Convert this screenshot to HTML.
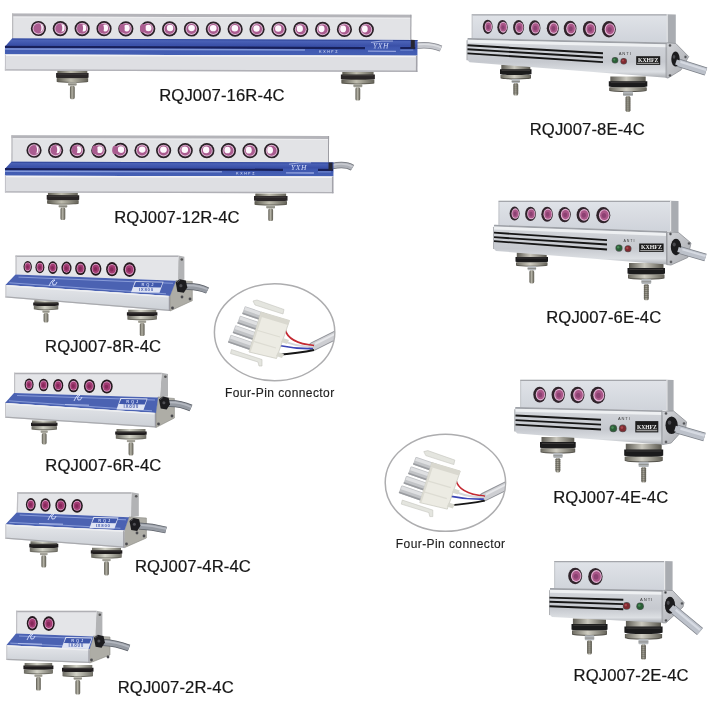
<!DOCTYPE html><html><head><meta charset="utf-8"><style>html,body{margin:0;padding:0;background:#fff;overflow:hidden}svg{display:block;will-change:transform}</style></head><body>
<svg width="711" height="711" viewBox="0 0 711 711" font-family='"Liberation Sans", sans-serif'>
<rect width="711" height="711" fill="#fff"/>
<defs><linearGradient id="ftR" x1="0" y1="0" x2="1" y2="0"><stop offset="0" stop-color="#5e5c52"/><stop offset="0.45" stop-color="#bebcae"/><stop offset="1" stop-color="#66645a"/></linearGradient><linearGradient id="ftP" x1="0" y1="0" x2="1" y2="0"><stop offset="0" stop-color="#6e6d64"/><stop offset="0.45" stop-color="#d2d2c6"/><stop offset="1" stop-color="#74736a"/></linearGradient><linearGradient id="ftE" x1="0" y1="0" x2="1" y2="0"><stop offset="0" stop-color="#5e5c54"/><stop offset="0.45" stop-color="#cac8be"/><stop offset="1" stop-color="#5a584f"/></linearGradient><linearGradient id="fdE" x1="0" y1="0" x2="1" y2="0"><stop offset="0" stop-color="#6f6d63"/><stop offset="0.45" stop-color="#cfcdc2"/><stop offset="1" stop-color="#67655b"/></linearGradient><linearGradient id="fbolt" x1="0" y1="0" x2="1" y2="0"><stop offset="0" stop-color="#5a584e"/><stop offset="0.45" stop-color="#b4b2a6"/><stop offset="1" stop-color="#5a584e"/></linearGradient></defs>
<defs><linearGradient id="rLow" x1="0" y1="0" x2="0" y2="1"><stop offset="0" stop-color="#e4e6ea"/><stop offset="1" stop-color="#ccd0d6"/></linearGradient></defs>
<defs><linearGradient id="bBlue" x1="0" y1="0" x2="0" y2="1"><stop offset="0" stop-color="#5068bc"/><stop offset="0.38" stop-color="#3a50a8"/><stop offset="0.5" stop-color="#4058b0"/><stop offset="1" stop-color="#4560b4"/></linearGradient></defs>
<g transform="rotate(0.18 5 40)">
<path d="M416,44.5 Q430,42.5 441,47.2" fill="none" stroke="#85878e" stroke-width="6.4"/>
<path d="M416,44.5 Q430,42.5 441,47.2" fill="none" stroke="#c4c6cc" stroke-width="5"/>
<path d="M416,44.5 Q430,42.5 441,47.2" fill="none" stroke="#dcdee2" stroke-width="1.5" transform="translate(0,-1.0)"/>
<g>
<path d="M57.5,70.2 h29.9 v3.1 A15.0,1.1 0 0 1 57.5,73.3 Z" fill="url(#ftR)"/>
<path d="M56.2,72.8 h32.5 v4.5 A16.2,1.1 0 0 1 56.2,77.3 Z" fill="#2a2627"/>
<path d="M57.9,73.9 h29.2" stroke="#4f4c49" stroke-width="0.6"/>
<path d="M56.8,78.1 h31.5 v3.4 A15.8,1.1 0 0 1 56.8,81.5 Z" fill="#5e5c52"/>
<path d="M57.2,78.1 h30.5 v2.5 A15.2,1.1 0 0 1 57.2,80.6 Z" fill="url(#ftR)"/>
<rect x="68.3" y="82.1" width="8.5" height="3.5" rx="0.8" fill="#a9a89e"/>
<rect x="68.3" y="83.9" width="8.5" height="0.7" fill="#7d7c76"/>
<rect x="70.1" y="85.6" width="4.8" height="13.4" rx="1.6" fill="url(#fbolt)"/>
</g>
<g>
<path d="M342.4,70.8 h31.3 v3.1 A15.6,1.1 0 0 1 342.4,73.9 Z" fill="url(#ftR)"/>
<path d="M341.0,73.4 h34.0 v4.5 A17.0,1.1 0 0 1 341.0,77.9 Z" fill="#2a2627"/>
<path d="M342.7,74.5 h30.6" stroke="#4f4c49" stroke-width="0.6"/>
<path d="M341.5,78.7 h33.0 v3.4 A16.5,1.1 0 0 1 341.5,82.1 Z" fill="#5e5c52"/>
<path d="M342.0,78.7 h32.0 v2.5 A16.0,1.1 0 0 1 342.0,81.2 Z" fill="url(#ftR)"/>
<rect x="353.6" y="82.7" width="8.8" height="3.5" rx="0.8" fill="#a9a89e"/>
<rect x="353.6" y="84.5" width="8.8" height="0.7" fill="#7d7c76"/>
<rect x="355.6" y="86.2" width="4.8" height="13.3" rx="1.6" fill="url(#fbolt)"/>
</g>
<rect x="12" y="13.5" width="399.3" height="25.1" fill="#e2e3e6"/>
<rect x="12" y="13.5" width="399.3" height="3" fill="#b4b4b9"/>
<rect x="12" y="16.5" width="399.3" height="1" fill="#eeeef0"/>
<rect x="12" y="13.5" width="1.2" height="25.1" fill="#b8b8bc"/>
<rect x="410.3" y="13.5" width="1" height="25.1" fill="#9d9da3"/>
<polygon points="12,38.6 417.5,38.6 417.5,54.5 5,54.5 5,46.5" fill="url(#bBlue)"/>
<rect x="12" y="38.6" width="405.5" height="1.0" fill="#30469a"/>
<rect x="5" y="45.8" width="360.0" height="2.2" fill="#18205a"/>
<rect x="400.3" y="45.8" width="15" height="2.2" fill="#18205a"/>
<rect x="5" y="48.3" width="300.0" height="1.5" fill="#8298d8"/>
<rect x="400.3" y="48.3" width="13" height="1.2" fill="#6c84cc"/>
<text x="319" y="51.8" font-size="3.6" font-weight="bold" fill="#c6d0f0" letter-spacing="1.6">KXHFZ</text>
<text x="373" y="47.0" font-family="Liberation Serif" font-style="italic" font-size="7.5" fill="#d4dcf8" letter-spacing="0.6">YXH</text>
<path d="M371,41.3 q10,-2 22,-1.5" stroke="#c4cef2" stroke-width="0.7" fill="none"/>
<rect x="368" y="49.4" width="28" height="1.3" fill="#93a3de"/>
<rect x="5" y="54.5" width="412.5" height="16.099999999999994" fill="#dedfe3"/>
<rect x="5" y="54.5" width="412.5" height="1.5" fill="#f2f2f4"/>
<rect x="5" y="69.3" width="412.5" height="1.3" fill="#b0b0b6"/>
<rect x="416.0" y="54.5" width="1.5" height="16.099999999999994" fill="#a3a3aa"/>
<rect x="5" y="54.5" width="1.0" height="16.099999999999994" fill="#c2c2c7"/>
<rect x="410.8" y="38.6" width="4" height="8.7" fill="#262633"/>
<g transform="translate(38.4,28.4) scale(1.000)"><circle r="7.6" fill="#2a2027"/><circle r="5.9" fill="#e2bcd8"/><circle r="5.0" fill="#aa5c90"/><ellipse cx="2.00" cy="-0.60" rx="2.50" ry="3.70" fill="#fdf7fc"/><ellipse cx="0.20" cy="-0.5" rx="2.8" ry="4.3" fill="#aa5c90"/></g>
<g transform="translate(60.3,28.4) scale(1.000)"><circle r="7.6" fill="#2a2027"/><circle r="5.9" fill="#e2bcd8"/><circle r="5.0" fill="#aa5c90"/><ellipse cx="1.73" cy="-0.64" rx="2.62" ry="3.62" fill="#fdf7fc"/><ellipse cx="-0.83" cy="-0.5" rx="2.8" ry="4.3" fill="#aa5c90"/></g>
<g transform="translate(82.1,28.4) scale(1.000)"><circle r="7.6" fill="#2a2027"/><circle r="5.9" fill="#e2bcd8"/><circle r="5.0" fill="#aa5c90"/><ellipse cx="1.47" cy="-0.68" rx="2.74" ry="3.54" fill="#fdf7fc"/><ellipse cx="-1.87" cy="-0.5" rx="2.8" ry="4.3" fill="#aa5c90"/></g>
<g transform="translate(104.0,28.4) scale(1.000)"><circle r="7.6" fill="#2a2027"/><circle r="5.9" fill="#e2bcd8"/><circle r="5.0" fill="#aa5c90"/><ellipse cx="1.20" cy="-0.72" rx="2.86" ry="3.46" fill="#fdf7fc"/><ellipse cx="-2.90" cy="-0.5" rx="2.8" ry="4.3" fill="#aa5c90"/></g>
<g transform="translate(125.8,28.4) scale(1.000)"><circle r="7.6" fill="#2a2027"/><circle r="5.9" fill="#e2bcd8"/><circle r="5.0" fill="#aa5c90"/><ellipse cx="0.93" cy="-0.76" rx="2.98" ry="3.38" fill="#fdf7fc"/><ellipse cx="-3.93" cy="-0.5" rx="2.8" ry="4.3" fill="#aa5c90"/></g>
<g transform="translate(147.7,28.4) scale(1.000)"><circle r="7.6" fill="#2a2027"/><circle r="5.9" fill="#e2bcd8"/><circle r="5.0" fill="#aa5c90"/><ellipse cx="0.67" cy="-0.80" rx="3.10" ry="3.30" fill="#fdf7fc"/><ellipse cx="-4.97" cy="-0.5" rx="2.8" ry="4.3" fill="#aa5c90"/></g>
<g transform="translate(169.6,28.4) scale(1.000)"><circle r="7.6" fill="#2a2027"/><circle r="5.9" fill="#e2bcd8"/><circle r="5.0" fill="#aa5c90"/><ellipse cx="0.40" cy="-0.84" rx="3.22" ry="3.22" fill="#fdf7fc"/></g>
<g transform="translate(191.4,28.4) scale(1.000)"><circle r="7.6" fill="#2a2027"/><circle r="5.9" fill="#e2bcd8"/><circle r="5.0" fill="#aa5c90"/><ellipse cx="0.13" cy="-0.88" rx="3.34" ry="3.14" fill="#fdf7fc"/></g>
<g transform="translate(213.3,28.4) scale(1.000)"><circle r="7.6" fill="#2a2027"/><circle r="5.9" fill="#e2bcd8"/><circle r="5.0" fill="#aa5c90"/><ellipse cx="-0.10" cy="-0.87" rx="3.37" ry="3.13" fill="#fdf7fc"/></g>
<g transform="translate(235.1,28.4) scale(1.000)"><circle r="7.6" fill="#2a2027"/><circle r="5.9" fill="#e2bcd8"/><circle r="5.0" fill="#aa5c90"/><ellipse cx="-0.30" cy="-0.82" rx="3.30" ry="3.18" fill="#fdf7fc"/></g>
<g transform="translate(257.0,28.4) scale(1.000)"><circle r="7.6" fill="#2a2027"/><circle r="5.9" fill="#e2bcd8"/><circle r="5.0" fill="#aa5c90"/><ellipse cx="-0.50" cy="-0.77" rx="3.23" ry="3.23" fill="#fdf7fc"/></g>
<g transform="translate(278.9,28.4) scale(1.000)"><circle r="7.6" fill="#2a2027"/><circle r="5.9" fill="#e2bcd8"/><circle r="5.0" fill="#aa5c90"/><ellipse cx="-0.70" cy="-0.71" rx="3.17" ry="3.29" fill="#fdf7fc"/></g>
<g transform="translate(300.7,28.4) scale(1.000)"><circle r="7.6" fill="#2a2027"/><circle r="5.9" fill="#e2bcd8"/><circle r="5.0" fill="#aa5c90"/><ellipse cx="-0.90" cy="-0.66" rx="3.10" ry="3.34" fill="#fdf7fc"/></g>
<g transform="translate(322.6,28.4) scale(1.000)"><circle r="7.6" fill="#2a2027"/><circle r="5.9" fill="#e2bcd8"/><circle r="5.0" fill="#aa5c90"/><ellipse cx="-1.10" cy="-0.61" rx="3.03" ry="3.39" fill="#fdf7fc"/></g>
<g transform="translate(344.4,28.4) scale(1.000)"><circle r="7.6" fill="#2a2027"/><circle r="5.9" fill="#e2bcd8"/><circle r="5.0" fill="#aa5c90"/><ellipse cx="-1.30" cy="-0.55" rx="2.97" ry="3.45" fill="#fdf7fc"/></g>
<g transform="translate(366.3,28.4) scale(1.000)"><circle r="7.6" fill="#2a2027"/><circle r="5.9" fill="#e2bcd8"/><circle r="5.0" fill="#aa5c90"/><ellipse cx="-1.50" cy="-0.50" rx="2.90" ry="3.50" fill="#fdf7fc"/></g>
</g>
<g transform="translate(159.2,100.7) scale(1.04,1)"><text x="0" y="0" font-size="16" letter-spacing="0.12" fill="#161616" stroke="#161616" stroke-width="0.2">RQJ007-16R-4C</text></g>
<g transform="rotate(0.12 5 160)">
<path d="M332,165.5 Q345,162.5 352.5,167" fill="none" stroke="#6e7178" stroke-width="6.4"/>
<path d="M332,165.5 Q345,162.5 352.5,167" fill="none" stroke="#aeb1b8" stroke-width="5"/>
<path d="M332,165.5 Q345,162.5 352.5,167" fill="none" stroke="#c8cad0" stroke-width="1.5" transform="translate(0,-1.0)"/>
<g>
<path d="M48.0,192.5 h29.9 v3.0 A15.0,1.0 0 0 1 48.0,195.5 Z" fill="url(#ftR)"/>
<path d="M46.8,195.0 h32.5 v4.4 A16.2,1.0 0 0 1 46.8,199.5 Z" fill="#2a2627"/>
<path d="M48.4,196.1 h29.2" stroke="#4f4c49" stroke-width="0.6"/>
<path d="M47.2,200.2 h31.5 v3.3 A15.8,1.0 0 0 1 47.2,203.5 Z" fill="#5e5c52"/>
<path d="M47.8,200.2 h30.5 v2.4 A15.2,1.0 0 0 1 47.8,202.6 Z" fill="url(#ftR)"/>
<rect x="58.8" y="204.1" width="8.5" height="3.4" rx="0.8" fill="#a9a89e"/>
<rect x="58.8" y="205.8" width="8.5" height="0.7" fill="#7d7c76"/>
<rect x="60.6" y="207.5" width="4.8" height="12.5" rx="1.6" fill="url(#fbolt)"/>
</g>
<g>
<path d="M255.4,193.0 h30.8 v3.0 A15.4,1.0 0 0 1 255.4,196.0 Z" fill="url(#ftR)"/>
<path d="M254.1,195.5 h33.5 v4.4 A16.8,1.0 0 0 1 254.1,200.0 Z" fill="#2a2627"/>
<path d="M255.7,196.6 h30.2" stroke="#4f4c49" stroke-width="0.6"/>
<path d="M254.6,200.7 h32.5 v3.3 A16.2,1.0 0 0 1 254.6,204.0 Z" fill="#5e5c52"/>
<path d="M255.1,200.7 h31.5 v2.4 A15.8,1.0 0 0 1 255.1,203.1 Z" fill="url(#ftR)"/>
<rect x="266.4" y="204.6" width="8.7" height="3.4" rx="0.8" fill="#a9a89e"/>
<rect x="266.4" y="206.3" width="8.7" height="0.7" fill="#7d7c76"/>
<rect x="268.4" y="208.0" width="4.8" height="12.5" rx="1.6" fill="url(#fbolt)"/>
</g>
<rect x="11.4" y="135.3" width="317.6" height="26.5" fill="#e2e3e6"/>
<rect x="11.4" y="135.3" width="317.6" height="3" fill="#b4b4b9"/>
<rect x="11.4" y="138.3" width="317.6" height="1" fill="#eeeef0"/>
<rect x="11.4" y="135.3" width="1.2" height="26.5" fill="#b8b8bc"/>
<rect x="328" y="135.3" width="1" height="26.5" fill="#9d9da3"/>
<polygon points="11.4,161.8 333.5,161.8 333.5,175.8 5,175.8 5,168.8" fill="url(#bBlue)"/>
<rect x="11.4" y="161.8" width="322.1" height="1.0" fill="#30469a"/>
<rect x="5" y="168.1" width="278.0" height="2.2" fill="#18205a"/>
<rect x="318" y="168.1" width="15" height="2.2" fill="#18205a"/>
<rect x="5" y="170.6" width="217.0" height="1.5" fill="#8298d8"/>
<rect x="318" y="170.6" width="13" height="1.2" fill="#6c84cc"/>
<text x="236" y="174.1" font-size="3.6" font-weight="bold" fill="#c6d0f0" letter-spacing="1.6">KXHFZ</text>
<text x="291" y="169.3" font-family="Liberation Serif" font-style="italic" font-size="7.5" fill="#d4dcf8" letter-spacing="0.6">YXH</text>
<path d="M289,163.6 q10,-2 22,-1.5" stroke="#c4cef2" stroke-width="0.7" fill="none"/>
<rect x="286" y="171.7" width="28" height="1.3" fill="#93a3de"/>
<rect x="5" y="175.8" width="328.5" height="16.799999999999983" fill="#dedfe3"/>
<rect x="5" y="175.8" width="328.5" height="1.5" fill="#f2f2f4"/>
<rect x="5" y="191.29999999999998" width="328.5" height="1.3" fill="#b0b0b6"/>
<rect x="332.0" y="175.8" width="1.5" height="16.799999999999983" fill="#a3a3aa"/>
<rect x="5" y="175.8" width="1.0" height="16.799999999999983" fill="#c2c2c7"/>
<rect x="328.5" y="161.8" width="4" height="7.7" fill="#262633"/>
<g transform="translate(34.0,150.2) scale(1.000)"><circle r="7.6" fill="#2a2027"/><circle r="5.9" fill="#e2bcd8"/><circle r="5.0" fill="#aa5c90"/><ellipse cx="2.00" cy="-0.60" rx="2.50" ry="3.70" fill="#fdf7fc"/><ellipse cx="0.20" cy="-0.5" rx="2.8" ry="4.3" fill="#aa5c90"/></g>
<g transform="translate(55.6,150.2) scale(1.000)"><circle r="7.6" fill="#2a2027"/><circle r="5.9" fill="#e2bcd8"/><circle r="5.0" fill="#aa5c90"/><ellipse cx="1.64" cy="-0.65" rx="2.66" ry="3.59" fill="#fdf7fc"/><ellipse cx="-1.21" cy="-0.5" rx="2.8" ry="4.3" fill="#aa5c90"/></g>
<g transform="translate(77.2,150.2) scale(1.000)"><circle r="7.6" fill="#2a2027"/><circle r="5.9" fill="#e2bcd8"/><circle r="5.0" fill="#aa5c90"/><ellipse cx="1.27" cy="-0.71" rx="2.83" ry="3.48" fill="#fdf7fc"/><ellipse cx="-2.62" cy="-0.5" rx="2.8" ry="4.3" fill="#aa5c90"/></g>
<g transform="translate(98.8,150.2) scale(1.000)"><circle r="7.6" fill="#2a2027"/><circle r="5.9" fill="#e2bcd8"/><circle r="5.0" fill="#aa5c90"/><ellipse cx="0.91" cy="-0.76" rx="2.99" ry="3.37" fill="#fdf7fc"/><ellipse cx="-4.03" cy="-0.5" rx="2.8" ry="4.3" fill="#aa5c90"/></g>
<g transform="translate(120.4,150.2) scale(1.000)"><circle r="7.6" fill="#2a2027"/><circle r="5.9" fill="#e2bcd8"/><circle r="5.0" fill="#aa5c90"/><ellipse cx="0.55" cy="-0.82" rx="3.15" ry="3.26" fill="#fdf7fc"/><ellipse cx="-5.44" cy="-0.5" rx="2.8" ry="4.3" fill="#aa5c90"/></g>
<g transform="translate(142.0,150.2) scale(1.000)"><circle r="7.6" fill="#2a2027"/><circle r="5.9" fill="#e2bcd8"/><circle r="5.0" fill="#aa5c90"/><ellipse cx="0.18" cy="-0.87" rx="3.32" ry="3.15" fill="#fdf7fc"/></g>
<g transform="translate(163.6,150.2) scale(1.000)"><circle r="7.6" fill="#2a2027"/><circle r="5.9" fill="#e2bcd8"/><circle r="5.0" fill="#aa5c90"/><ellipse cx="-0.14" cy="-0.86" rx="3.35" ry="3.14" fill="#fdf7fc"/></g>
<g transform="translate(185.2,150.2) scale(1.000)"><circle r="7.6" fill="#2a2027"/><circle r="5.9" fill="#e2bcd8"/><circle r="5.0" fill="#aa5c90"/><ellipse cx="-0.41" cy="-0.79" rx="3.26" ry="3.21" fill="#fdf7fc"/></g>
<g transform="translate(206.8,150.2) scale(1.000)"><circle r="7.6" fill="#2a2027"/><circle r="5.9" fill="#e2bcd8"/><circle r="5.0" fill="#aa5c90"/><ellipse cx="-0.68" cy="-0.72" rx="3.17" ry="3.28" fill="#fdf7fc"/></g>
<g transform="translate(228.4,150.2) scale(1.000)"><circle r="7.6" fill="#2a2027"/><circle r="5.9" fill="#e2bcd8"/><circle r="5.0" fill="#aa5c90"/><ellipse cx="-0.95" cy="-0.65" rx="3.08" ry="3.35" fill="#fdf7fc"/></g>
<g transform="translate(250.0,150.2) scale(1.000)"><circle r="7.6" fill="#2a2027"/><circle r="5.9" fill="#e2bcd8"/><circle r="5.0" fill="#aa5c90"/><ellipse cx="-1.23" cy="-0.57" rx="2.99" ry="3.43" fill="#fdf7fc"/></g>
<g transform="translate(271.6,150.2) scale(1.000)"><circle r="7.6" fill="#2a2027"/><circle r="5.9" fill="#e2bcd8"/><circle r="5.0" fill="#aa5c90"/><ellipse cx="-1.50" cy="-0.50" rx="2.90" ry="3.50" fill="#fdf7fc"/></g>
</g>
<g transform="translate(114.2,222.9) scale(1.04,1)"><text x="0" y="0" font-size="16" letter-spacing="0.12" fill="#161616" stroke="#161616" stroke-width="0.2">RQJ007-12R-4C</text></g>
<g>
<path d="M34.3,300.2 h23.5 v2.8 A11.7,0.9 0 0 1 34.3,303.0 Z" fill="url(#ftP)"/>
<path d="M33.2,302.5 h25.5 v3.0 A12.8,0.9 0 0 1 33.2,305.5 Z" fill="#1f1c1d"/>
<path d="M34.5,303.2 h22.9" stroke="#4f4c49" stroke-width="0.6"/>
<path d="M33.8,306.0 h24.5 v3.2 A12.2,0.9 0 0 1 33.8,309.3 Z" fill="#6e6d64"/>
<path d="M34.2,306.0 h23.5 v2.3 A11.8,0.9 0 0 1 34.2,308.4 Z" fill="url(#ftP)"/>
<rect x="42.5" y="309.8" width="7.0" height="3.2" rx="0.8" fill="#b8b7ac"/>
<rect x="42.5" y="311.4" width="7.0" height="0.7" fill="#7d7c76"/>
<rect x="43.6" y="313.0" width="4.8" height="9.5" rx="1.6" fill="url(#fbolt)"/>
</g>
<g>
<path d="M128.2,309.8 h28.1 v2.9 A14.0,0.9 0 0 1 128.2,312.7 Z" fill="url(#ftP)"/>
<path d="M126.9,312.2 h30.5 v3.1 A15.2,0.9 0 0 1 126.9,315.4 Z" fill="#1f1c1d"/>
<path d="M128.5,313.0 h27.4" stroke="#4f4c49" stroke-width="0.6"/>
<path d="M127.4,315.9 h29.5 v3.4 A14.8,0.9 0 0 1 127.4,319.4 Z" fill="#6e6d64"/>
<path d="M127.9,315.9 h28.5 v2.5 A14.2,0.9 0 0 1 127.9,318.4 Z" fill="url(#ftP)"/>
<rect x="138.2" y="319.9" width="7.9" height="3.2" rx="0.8" fill="#b8b7ac"/>
<rect x="138.2" y="321.5" width="7.9" height="0.7" fill="#7d7c76"/>
<rect x="139.8" y="323.1" width="4.8" height="12.9" rx="1.6" fill="url(#fbolt)"/>
</g>
<polygon points="178.5,255.5 184.4,256.7 184.4,279.8 176.5,280.8" fill="#b2b3b5" />
<circle cx="181.8" cy="259.5" r="1.3" fill="#555"/>
<polygon points="15.5,255.5 178.5,255.5 178.0,280.8 15.5,274.6" fill="#e4e5e8" />
<polygon points="15.5,255.5 178.5,255.5 178.5,257.0 15.5,257.0" fill="#b0b0b5" />
<polygon points="15.5,255.5 16.7,255.5 16.7,274.6 15.5,274.6" fill="#c0c0c4" />
<polygon points="176.0,280.5 192.3,281.5 192.3,300.7 170.0,311.0 170.0,296.0" fill="#aeada6" stroke="#8a8983" stroke-width="0.6"/>
<circle cx="190.0" cy="299.0" r="1.4" fill="#4a4a4e"/>
<circle cx="172.5" cy="308.0" r="1.4" fill="#4a4a4e"/>
<circle cx="182.0" cy="297.0" r="1.4" fill="#4a4a4e"/>
<polygon points="15.5,274.6 176.0,280.8 170.0,296.0 5.4,285.0" fill="#4b62b2" />
<line x1="18.5" y1="277.1" x2="173.0" y2="283.3" stroke="#8ea2dc" stroke-width="0.9"/>
<line x1="9.4" y1="282.8" x2="166.0" y2="293.8" stroke="#8ea2dc" stroke-width="0.9"/>
<polygon points="135.0,281.2 163.5,281.8 159.5,292.8 131.0,292.2" fill="#dfe4f4" />
<polygon points="135.8,282.1 162.6,282.6 160.6,287.4 133.6,286.9" fill="#4058ac" />
<text x="146.4" y="290.8" text-anchor="middle" font-size="4.4" font-weight="bold" fill="#4a60b0" letter-spacing="0.7">IX800</text>
<text x="148.4" y="285.8" text-anchor="middle" font-size="4.0" font-weight="bold" fill="#c8d2f2" letter-spacing="1.8">RQJ</text>
<path d="M49,286 q3,-7 6,-6 q-4,2 -2,5 q3,1 4,-3" fill="none" stroke="#dde4ff" stroke-width="0.9"/>
<line x1="40" y1="289.5" x2="64" y2="290.2" stroke="#b8c4ee" stroke-width="0.9"/>
<polygon points="5.4,285.0 170.0,296.0 170.0,311.0 5.4,297.5" fill="url(#rLow)" />
<polygon points="5.4,285.0 170.0,296.0 170.0,297.5 5.4,286.5" fill="#eeeff1" />
<polygon points="5.4,296.3 170.0,309.8 170.0,311.0 5.4,297.5" fill="#a9aaae" />
<polygon points="5.4,285.0 6.4,285.0 6.4,297.5 5.4,297.5" fill="#c6c6ca" />
<polygon points="168.8,296.0 170.0,296.0 170.0,311.0 168.8,311.0" fill="#9a9aa0" />
<path d="M186,286.5 Q198,286 207.5,290.5" fill="none" stroke="#5a5e66" stroke-width="6.9"/>
<path d="M186,286.5 Q198,286 207.5,290.5" fill="none" stroke="#959aa2" stroke-width="5.5"/>
<path d="M186,286.5 Q198,286 207.5,290.5" fill="none" stroke="#b4b8c0" stroke-width="1.6" transform="translate(0,-1.1)"/>
<polygon points="175.7,282.3 179.8,279.2 185.8,280.6 187.3,287.4 183.8,292.8 177.4,291.8" fill="#1c1c1f" />
<circle cx="180.9" cy="285.7" r="1.6" fill="#4e4e53"/>
<path d="M176.9,282.6 L180.1,280.0" stroke="#55555a" stroke-width="0.9"/>
<g transform="translate(27.7,266.8) scale(0.700,0.983)"><circle r="6" fill="#24181e"/><circle r="4.4" fill="#de9fc8"/><circle r="3.6" fill="#a23a72"/><circle cx="-0.3" cy="0.2" r="1.8" fill="#86285a"/></g>
<g transform="translate(39.9,267.2) scale(0.747,1.017)"><circle r="6" fill="#24181e"/><circle r="4.4" fill="#de9fc8"/><circle r="3.6" fill="#a23a72"/><circle cx="-0.3" cy="0.2" r="1.8" fill="#86285a"/></g>
<g transform="translate(52.8,267.6) scale(0.793,1.050)"><circle r="6" fill="#24181e"/><circle r="4.4" fill="#de9fc8"/><circle r="3.6" fill="#a23a72"/><circle cx="-0.3" cy="0.2" r="1.8" fill="#86285a"/></g>
<g transform="translate(66.5,268.0) scale(0.840,1.083)"><circle r="6" fill="#24181e"/><circle r="4.4" fill="#de9fc8"/><circle r="3.6" fill="#a23a72"/><circle cx="-0.3" cy="0.2" r="1.8" fill="#86285a"/></g>
<g transform="translate(80.5,268.4) scale(0.887,1.117)"><circle r="6" fill="#24181e"/><circle r="4.4" fill="#de9fc8"/><circle r="3.6" fill="#a23a72"/><circle cx="-0.3" cy="0.2" r="1.8" fill="#86285a"/></g>
<g transform="translate(95.8,268.8) scale(0.933,1.150)"><circle r="6" fill="#24181e"/><circle r="4.4" fill="#de9fc8"/><circle r="3.6" fill="#a23a72"/><circle cx="-0.3" cy="0.2" r="1.8" fill="#86285a"/></g>
<g transform="translate(112.0,269.2) scale(0.980,1.183)"><circle r="6" fill="#24181e"/><circle r="4.4" fill="#de9fc8"/><circle r="3.6" fill="#a23a72"/><circle cx="-0.3" cy="0.2" r="1.8" fill="#86285a"/></g>
<g transform="translate(129.5,269.6) scale(1.027,1.217)"><circle r="6" fill="#24181e"/><circle r="4.4" fill="#de9fc8"/><circle r="3.6" fill="#a23a72"/><circle cx="-0.3" cy="0.2" r="1.8" fill="#86285a"/></g>
<g transform="translate(45.1,352.0) scale(1.04,1)"><text x="0" y="0" font-size="16" letter-spacing="0.12" fill="#161616" stroke="#161616" stroke-width="0.2">RQJ007-8R-4C</text></g>
<g>
<path d="M32.0,420.5 h24.4 v2.7 A12.2,0.8 0 0 1 32.0,423.2 Z" fill="url(#ftP)"/>
<path d="M31.0,422.7 h26.5 v2.9 A13.2,0.8 0 0 1 31.0,425.7 Z" fill="#1f1c1d"/>
<path d="M32.3,423.5 h23.9" stroke="#4f4c49" stroke-width="0.6"/>
<path d="M31.5,426.2 h25.5 v3.2 A12.8,0.8 0 0 1 31.5,429.4 Z" fill="#6e6d64"/>
<path d="M32.0,426.2 h24.5 v2.3 A12.2,0.8 0 0 1 32.0,428.5 Z" fill="url(#ftP)"/>
<rect x="40.7" y="429.9" width="7.0" height="3.2" rx="0.8" fill="#b8b7ac"/>
<rect x="40.7" y="431.5" width="7.0" height="0.7" fill="#7d7c76"/>
<rect x="41.8" y="433.1" width="4.8" height="11.3" rx="1.6" fill="url(#fbolt)"/>
</g>
<g>
<path d="M116.5,429.0 h29.0 v2.9 A14.5,0.9 0 0 1 116.5,431.9 Z" fill="url(#ftP)"/>
<path d="M115.2,431.4 h31.5 v3.1 A15.8,0.9 0 0 1 115.2,434.6 Z" fill="#1f1c1d"/>
<path d="M116.8,432.2 h28.4" stroke="#4f4c49" stroke-width="0.6"/>
<path d="M115.8,435.1 h30.5 v3.4 A15.2,0.9 0 0 1 115.8,438.6 Z" fill="#6e6d64"/>
<path d="M116.2,435.1 h29.5 v2.5 A14.8,0.9 0 0 1 116.2,437.6 Z" fill="url(#ftP)"/>
<rect x="126.9" y="439.1" width="8.2" height="3.2" rx="0.8" fill="#b8b7ac"/>
<rect x="126.9" y="440.7" width="8.2" height="0.7" fill="#7d7c76"/>
<rect x="128.6" y="442.3" width="4.8" height="13.3" rx="1.6" fill="url(#fbolt)"/>
</g>
<polygon points="161.7,372.7 168.0,373.9 168.0,396.5 159.7,397.5" fill="#b2b3b5" />
<circle cx="165.4" cy="376.7" r="1.3" fill="#555"/>
<polygon points="14.0,372.7 161.7,372.7 160.0,397.5 14.0,393.0" fill="#e4e5e8" />
<polygon points="14.0,372.7 161.7,372.7 161.7,374.2 14.0,374.2" fill="#b0b0b5" />
<polygon points="14.0,372.7 15.2,372.7 15.2,393.0 14.0,393.0" fill="#c0c0c4" />
<polygon points="158.0,397.0 174.4,398.5 174.4,418.0 156.0,427.5 156.0,413.0" fill="#aeada6" stroke="#8a8983" stroke-width="0.6"/>
<circle cx="172.0" cy="416.0" r="1.4" fill="#4a4a4e"/>
<circle cx="158.5" cy="424.0" r="1.4" fill="#4a4a4e"/>
<polygon points="14.0,393.0 158.0,397.5 156.0,413.0 5.0,403.0" fill="#4b62b2" />
<line x1="17.0" y1="395.5" x2="155.0" y2="400.0" stroke="#8ea2dc" stroke-width="0.9"/>
<line x1="9.0" y1="400.8" x2="152.0" y2="410.8" stroke="#8ea2dc" stroke-width="0.9"/>
<polygon points="120.5,398.0 147.5,398.6 143.5,410.1 116.5,409.5" fill="#dfe4f4" />
<polygon points="121.3,398.9 146.6,399.4 144.6,404.4 119.0,403.9" fill="#4058ac" />
<text x="131.2" y="408.1" text-anchor="middle" font-size="4.6" font-weight="bold" fill="#4a60b0" letter-spacing="0.7">IX800</text>
<text x="133.1" y="402.8" text-anchor="middle" font-size="4.1" font-weight="bold" fill="#c8d2f2" letter-spacing="1.8">RQJ</text>
<path d="M74,401 q3,-7 6,-6 q-4,2 -2,5 q3,1 4,-3" fill="none" stroke="#dde4ff" stroke-width="0.9"/>
<line x1="65" y1="404.5" x2="89" y2="405.2" stroke="#b8c4ee" stroke-width="0.9"/>
<polygon points="5.0,403.0 156.0,413.0 156.0,427.5 5.0,417.7" fill="url(#rLow)" />
<polygon points="5.0,403.0 156.0,413.0 156.0,414.5 5.0,404.5" fill="#eeeff1" />
<polygon points="5.0,416.5 156.0,426.3 156.0,427.5 5.0,417.7" fill="#a9aaae" />
<polygon points="5.0,403.0 6.0,403.0 6.0,417.7 5.0,417.7" fill="#c6c6ca" />
<polygon points="154.8,413.0 156.0,413.0 156.0,427.5 154.8,427.5" fill="#9a9aa0" />
<path d="M168,403.5 Q180,403 191,408" fill="none" stroke="#5a5e66" stroke-width="6.9"/>
<path d="M168,403.5 Q180,403 191,408" fill="none" stroke="#959aa2" stroke-width="5.5"/>
<path d="M168,403.5 Q180,403 191,408" fill="none" stroke="#b4b8c0" stroke-width="1.6" transform="translate(0,-1.1)"/>
<polygon points="159.0,399.4 162.8,396.5 168.6,397.8 170.0,404.3 166.7,409.5 160.7,408.5" fill="#1c1c1f" />
<circle cx="163.9" cy="402.7" r="1.5" fill="#4e4e53"/>
<path d="M160.1,399.8 L163.1,397.3" stroke="#55555a" stroke-width="0.9"/>
<g transform="translate(29.1,384.6) scale(0.750,1.017)"><circle r="6" fill="#24181e"/><circle r="4.4" fill="#de9fc8"/><circle r="3.6" fill="#a23a72"/><circle cx="-0.3" cy="0.2" r="1.8" fill="#86285a"/></g>
<g transform="translate(43.6,385.0) scale(0.797,1.047)"><circle r="6" fill="#24181e"/><circle r="4.4" fill="#de9fc8"/><circle r="3.6" fill="#a23a72"/><circle cx="-0.3" cy="0.2" r="1.8" fill="#86285a"/></g>
<g transform="translate(58.2,385.4) scale(0.843,1.077)"><circle r="6" fill="#24181e"/><circle r="4.4" fill="#de9fc8"/><circle r="3.6" fill="#a23a72"/><circle cx="-0.3" cy="0.2" r="1.8" fill="#86285a"/></g>
<g transform="translate(73.5,385.7) scale(0.890,1.107)"><circle r="6" fill="#24181e"/><circle r="4.4" fill="#de9fc8"/><circle r="3.6" fill="#a23a72"/><circle cx="-0.3" cy="0.2" r="1.8" fill="#86285a"/></g>
<g transform="translate(89.5,386.1) scale(0.937,1.137)"><circle r="6" fill="#24181e"/><circle r="4.4" fill="#de9fc8"/><circle r="3.6" fill="#a23a72"/><circle cx="-0.3" cy="0.2" r="1.8" fill="#86285a"/></g>
<g transform="translate(106.8,386.5) scale(0.983,1.167)"><circle r="6" fill="#24181e"/><circle r="4.4" fill="#de9fc8"/><circle r="3.6" fill="#a23a72"/><circle cx="-0.3" cy="0.2" r="1.8" fill="#86285a"/></g>
<g transform="translate(45.3,470.7) scale(1.04,1)"><text x="0" y="0" font-size="16" letter-spacing="0.12" fill="#161616" stroke="#161616" stroke-width="0.2">RQJ007-6R-4C</text></g>
<g>
<path d="M30.5,541.2 h26.7 v3.1 A13.3,1.0 0 0 1 30.5,544.3 Z" fill="url(#ftP)"/>
<path d="M29.3,543.8 h29.0 v3.4 A14.5,1.0 0 0 1 29.3,547.2 Z" fill="#1f1c1d"/>
<path d="M30.7,544.6 h26.1" stroke="#4f4c49" stroke-width="0.6"/>
<path d="M29.8,547.9 h28.0 v3.6 A14.0,1.0 0 0 1 29.8,551.5 Z" fill="#6e6d64"/>
<path d="M30.3,547.9 h27.0 v2.7 A13.5,1.0 0 0 1 30.3,550.6 Z" fill="url(#ftP)"/>
<rect x="40.0" y="552.1" width="7.5" height="3.2" rx="0.8" fill="#b8b7ac"/>
<rect x="40.0" y="553.7" width="7.5" height="0.7" fill="#7d7c76"/>
<rect x="41.4" y="555.3" width="4.8" height="12.2" rx="1.6" fill="url(#fbolt)"/>
</g>
<g>
<path d="M92.0,547.7 h29.0 v3.0 A14.5,0.9 0 0 1 92.0,550.7 Z" fill="url(#ftP)"/>
<path d="M90.8,550.2 h31.5 v3.2 A15.8,0.9 0 0 1 90.8,553.4 Z" fill="#1f1c1d"/>
<path d="M92.3,551.0 h28.4" stroke="#4f4c49" stroke-width="0.6"/>
<path d="M91.2,554.0 h30.5 v3.5 A15.2,0.9 0 0 1 91.2,557.5 Z" fill="#6e6d64"/>
<path d="M91.8,554.0 h29.5 v2.6 A14.8,0.9 0 0 1 91.8,556.6 Z" fill="url(#ftP)"/>
<rect x="102.4" y="558.1" width="8.2" height="3.2" rx="0.8" fill="#b8b7ac"/>
<rect x="102.4" y="559.7" width="8.2" height="0.7" fill="#7d7c76"/>
<rect x="104.1" y="561.3" width="4.8" height="14.1" rx="1.6" fill="url(#fbolt)"/>
</g>
<polygon points="131.6,492.2 138.8,493.4 138.8,516.3 129.6,517.3" fill="#b2b3b5" />
<circle cx="136.2" cy="496.2" r="1.3" fill="#555"/>
<polygon points="17.2,492.2 131.6,492.2 131.0,517.3 16.7,512.5" fill="#e4e5e8" />
<polygon points="17.2,492.2 131.6,492.2 131.6,493.7 17.2,493.7" fill="#b0b0b5" />
<polygon points="17.2,492.2 18.4,492.2 17.9,512.5 16.7,512.5" fill="#c0c0c4" />
<polygon points="129.0,517.0 146.4,518.0 146.4,538.0 124.4,547.7 124.4,530.5" fill="#aeada6" stroke="#8a8983" stroke-width="0.6"/>
<circle cx="144.0" cy="536.0" r="1.4" fill="#4a4a4e"/>
<circle cx="126.5" cy="544.0" r="1.4" fill="#4a4a4e"/>
<circle cx="137.0" cy="533.0" r="1.4" fill="#4a4a4e"/>
<polygon points="16.7,512.5 129.0,517.3 124.4,530.5 5.3,524.5" fill="#4b62b2" />
<line x1="19.7" y1="515.0" x2="126.0" y2="519.8" stroke="#8ea2dc" stroke-width="0.9"/>
<line x1="9.3" y1="522.3" x2="120.4" y2="528.3" stroke="#8ea2dc" stroke-width="0.9"/>
<polygon points="93.5,517.0 118.5,517.6 114.5,528.6 89.5,528.0" fill="#dfe4f4" />
<polygon points="94.3,517.9 117.6,518.4 115.5,523.2 92.0,522.7" fill="#4058ac" />
<text x="103.2" y="526.6" text-anchor="middle" font-size="4.4" font-weight="bold" fill="#4a60b0" letter-spacing="0.7">IX800</text>
<text x="105.1" y="521.6" text-anchor="middle" font-size="4.0" font-weight="bold" fill="#c8d2f2" letter-spacing="1.8">RQJ</text>
<path d="M48,520 q3,-7 6,-6 q-4,2 -2,5 q3,1 4,-3" fill="none" stroke="#dde4ff" stroke-width="0.9"/>
<line x1="39" y1="523.5" x2="63" y2="524.2" stroke="#b8c4ee" stroke-width="0.9"/>
<polygon points="5.3,524.5 124.4,530.5 124.4,547.7 5.3,538.8" fill="url(#rLow)" />
<polygon points="5.3,524.5 124.4,530.5 124.4,532.0 5.3,526.0" fill="#eeeff1" />
<polygon points="5.3,537.6 124.4,546.5 124.4,547.7 5.3,538.8" fill="#a9aaae" />
<polygon points="5.3,524.5 6.3,524.5 6.3,538.8 5.3,538.8" fill="#c6c6ca" />
<polygon points="123.2,530.5 124.4,530.5 124.4,547.7 123.2,547.7" fill="#9a9aa0" />
<path d="M139,526 Q152,526.5 166,530" fill="none" stroke="#5a5e66" stroke-width="6.9"/>
<path d="M139,526 Q152,526.5 166,530" fill="none" stroke="#959aa2" stroke-width="5.5"/>
<path d="M139,526 Q152,526.5 166,530" fill="none" stroke="#b4b8c0" stroke-width="1.6" transform="translate(0,-1.1)"/>
<polygon points="129.5,520.9 133.3,518.0 139.1,519.3 140.5,525.8 137.2,531.0 131.2,530.0" fill="#1c1c1f" />
<circle cx="134.4" cy="524.2" r="1.5" fill="#4e4e53"/>
<path d="M130.6,521.2 L133.6,518.8" stroke="#55555a" stroke-width="0.9"/>
<g transform="translate(30.8,504.6) scale(0.817,1.100)"><circle r="6" fill="#24181e"/><circle r="4.4" fill="#de9fc8"/><circle r="3.6" fill="#a23a72"/><circle cx="-0.3" cy="0.2" r="1.8" fill="#86285a"/></g>
<g transform="translate(45.4,505.0) scale(0.862,1.117)"><circle r="6" fill="#24181e"/><circle r="4.4" fill="#de9fc8"/><circle r="3.6" fill="#a23a72"/><circle cx="-0.3" cy="0.2" r="1.8" fill="#86285a"/></g>
<g transform="translate(60.8,505.4) scale(0.907,1.133)"><circle r="6" fill="#24181e"/><circle r="4.4" fill="#de9fc8"/><circle r="3.6" fill="#a23a72"/><circle cx="-0.3" cy="0.2" r="1.8" fill="#86285a"/></g>
<g transform="translate(77.1,505.8) scale(0.952,1.150)"><circle r="6" fill="#24181e"/><circle r="4.4" fill="#de9fc8"/><circle r="3.6" fill="#a23a72"/><circle cx="-0.3" cy="0.2" r="1.8" fill="#86285a"/></g>
<g transform="translate(134.9,571.8) scale(1.04,1)"><text x="0" y="0" font-size="16" letter-spacing="0.12" fill="#161616" stroke="#161616" stroke-width="0.2">RQJ007-4R-4C</text></g>
<g>
<path d="M24.6,663.0 h27.6 v3.1 A13.8,1.0 0 0 1 24.6,666.1 Z" fill="url(#ftP)"/>
<path d="M23.4,665.6 h30.0 v3.4 A15.0,1.0 0 0 1 23.4,669.0 Z" fill="#1f1c1d"/>
<path d="M24.9,666.4 h27.0" stroke="#4f4c49" stroke-width="0.6"/>
<path d="M23.9,669.7 h29.0 v3.6 A14.5,1.0 0 0 1 23.9,673.3 Z" fill="#6e6d64"/>
<path d="M24.4,669.7 h28.0 v2.7 A14.0,1.0 0 0 1 24.4,672.4 Z" fill="url(#ftP)"/>
<rect x="34.5" y="673.9" width="7.8" height="3.2" rx="0.8" fill="#b8b7ac"/>
<rect x="34.5" y="675.5" width="7.8" height="0.7" fill="#7d7c76"/>
<rect x="36.0" y="677.1" width="4.8" height="13.4" rx="1.6" fill="url(#fbolt)"/>
</g>
<g>
<path d="M63.3,665.0 h29.0 v3.3 A14.5,1.0 0 0 1 63.3,668.3 Z" fill="url(#ftP)"/>
<path d="M62.0,667.8 h31.5 v3.6 A15.8,1.0 0 0 1 62.0,671.4 Z" fill="#1f1c1d"/>
<path d="M63.6,668.7 h28.4" stroke="#4f4c49" stroke-width="0.6"/>
<path d="M62.5,672.1 h30.5 v3.9 A15.2,1.0 0 0 1 62.5,676.0 Z" fill="#6e6d64"/>
<path d="M63.0,672.1 h29.5 v3.0 A14.8,1.0 0 0 1 63.0,675.1 Z" fill="url(#ftP)"/>
<rect x="73.7" y="676.6" width="8.2" height="3.4" rx="0.8" fill="#b8b7ac"/>
<rect x="73.7" y="678.3" width="8.2" height="0.7" fill="#7d7c76"/>
<rect x="75.4" y="680.1" width="4.8" height="14.4" rx="1.6" fill="url(#fbolt)"/>
</g>
<polygon points="96.5,610.8 102.4,612.0 102.4,635.4 94.5,636.4" fill="#b2b3b5" />
<circle cx="99.8" cy="614.8" r="1.3" fill="#555"/>
<polygon points="16.1,610.8 96.5,610.8 95.5,636.4 16.0,633.5" fill="#e4e5e8" />
<polygon points="16.1,610.8 96.5,610.8 96.5,612.3 16.1,612.3" fill="#b0b0b5" />
<polygon points="16.1,610.8 17.3,610.8 17.2,633.5 16.0,633.5" fill="#c0c0c4" />
<polygon points="93.5,636.0 110.0,637.0 110.0,655.0 89.6,663.0 89.6,649.2" fill="#aeada6" stroke="#8a8983" stroke-width="0.6"/>
<circle cx="108.0" cy="657.0" r="1.4" fill="#4a4a4e"/>
<circle cx="91.5" cy="660.0" r="1.4" fill="#4a4a4e"/>
<polygon points="16.0,633.5 93.5,636.4 89.6,649.2 6.3,645.3" fill="#4b62b2" />
<line x1="19.0" y1="636.0" x2="90.5" y2="638.9" stroke="#8ea2dc" stroke-width="0.9"/>
<line x1="10.3" y1="643.1" x2="85.6" y2="647.0" stroke="#8ea2dc" stroke-width="0.9"/>
<polygon points="65.5,637.0 92.5,637.6 88.5,649.1 61.5,648.5" fill="#dfe4f4" />
<polygon points="66.3,637.9 91.6,638.4 89.5,643.4 64.0,642.9" fill="#4058ac" />
<text x="76.2" y="647.1" text-anchor="middle" font-size="4.6" font-weight="bold" fill="#4a60b0" letter-spacing="0.7">IX800</text>
<text x="78.1" y="641.8" text-anchor="middle" font-size="4.1" font-weight="bold" fill="#c8d2f2" letter-spacing="1.8">RQJ</text>
<path d="M27,640 q3,-7 6,-6 q-4,2 -2,5 q3,1 4,-3" fill="none" stroke="#dde4ff" stroke-width="0.9"/>
<line x1="18" y1="643.5" x2="42" y2="644.2" stroke="#b8c4ee" stroke-width="0.9"/>
<polygon points="6.3,645.3 89.6,649.2 89.6,663.0 6.3,660.0" fill="url(#rLow)" />
<polygon points="6.3,645.3 89.6,649.2 89.6,650.7 6.3,646.8" fill="#eeeff1" />
<polygon points="6.3,658.8 89.6,661.8 89.6,663.0 6.3,660.0" fill="#a9aaae" />
<polygon points="6.3,645.3 7.3,645.3 7.3,660.0 6.3,660.0" fill="#c6c6ca" />
<polygon points="88.4,649.2 89.6,649.2 89.6,663.0 88.4,663.0" fill="#9a9aa0" />
<path d="M103,642.5 Q116,643 129,648" fill="none" stroke="#5a5e66" stroke-width="6.9"/>
<path d="M103,642.5 Q116,643 129,648" fill="none" stroke="#959aa2" stroke-width="5.5"/>
<path d="M103,642.5 Q116,643 129,648" fill="none" stroke="#b4b8c0" stroke-width="1.6" transform="translate(0,-1.1)"/>
<polygon points="93.9,637.7 97.8,634.8 103.5,636.1 104.9,642.6 101.6,647.8 95.6,646.8" fill="#1c1c1f" />
<circle cx="98.9" cy="641.0" r="1.5" fill="#4e4e53"/>
<path d="M95.0,638.0 L98.0,635.6" stroke="#55555a" stroke-width="0.9"/>
<g transform="translate(32.3,623.3) scale(0.917,1.217)"><circle r="6" fill="#24181e"/><circle r="4.4" fill="#de9fc8"/><circle r="3.6" fill="#a23a72"/><circle cx="-0.3" cy="0.2" r="1.8" fill="#86285a"/></g>
<g transform="translate(48.8,623.6) scale(0.983,1.217)"><circle r="6" fill="#24181e"/><circle r="4.4" fill="#de9fc8"/><circle r="3.6" fill="#a23a72"/><circle cx="-0.3" cy="0.2" r="1.8" fill="#86285a"/></g>
<g transform="translate(117.7,693.4) scale(1.04,1)"><text x="0" y="0" font-size="16" letter-spacing="0.12" fill="#161616" stroke="#161616" stroke-width="0.2">RQJ007-2R-4C</text></g>
<g transform="translate(0,0)">
<clipPath id="cc0"><ellipse cx="274.6" cy="332.2" rx="59.6" ry="47.9"/></clipPath>
<ellipse cx="274.6" cy="332.2" rx="60.2" ry="48.5" fill="#fff" stroke="#adadaf" stroke-width="1.5"/>
<g clip-path="url(#cc0)">
<path d="M313,346.5 L340,333" stroke="#8f9197" stroke-width="9" stroke-linecap="round"/>
<path d="M313,346.5 L340,333" stroke="#cdced2" stroke-width="7" stroke-linecap="round"/>
<path d="M315,344 L340,331.5" stroke="#e6e7ea" stroke-width="2"/>
<path d="M285,329 Q288,343 314,345.5" stroke="#c42a32" stroke-width="1.7" fill="none"/>
<path d="M283,340 Q292,346 313,347" stroke="#d6d6da" stroke-width="2" fill="none"/>
<path d="M279,345.5 Q296,349 313,348.5" stroke="#3b45b5" stroke-width="1.7" fill="none"/>
<path d="M275,355 Q300,353 314,350" stroke="#161616" stroke-width="1.8" fill="none"/>
<g transform="rotate(19 243.5 310.0)"><rect x="243.5" y="305.8" width="24" height="8.4" rx="1.2" fill="#c2c4c7"/><rect x="244.3" y="306.6" width="22" height="3.2" fill="#dfe0e2"/><rect x="243.5" y="312.6" width="24" height="1.6" fill="#9a9ca0"/></g>
<g transform="rotate(19 238.6 319.5)"><rect x="238.6" y="315.3" width="24" height="8.4" rx="1.2" fill="#c2c4c7"/><rect x="239.4" y="316.1" width="22" height="3.2" fill="#dfe0e2"/><rect x="238.6" y="322.1" width="24" height="1.6" fill="#9a9ca0"/></g>
<g transform="rotate(19 234.0 329.0)"><rect x="234.0" y="324.8" width="24" height="8.4" rx="1.2" fill="#c2c4c7"/><rect x="234.8" y="325.6" width="22" height="3.2" fill="#dfe0e2"/><rect x="234.0" y="331.6" width="24" height="1.6" fill="#9a9ca0"/></g>
<g transform="rotate(19 229.3 338.5)"><rect x="229.3" y="334.3" width="24" height="8.4" rx="1.2" fill="#c2c4c7"/><rect x="230.1" y="335.1" width="22" height="3.2" fill="#dfe0e2"/><rect x="229.3" y="341.1" width="24" height="1.6" fill="#9a9ca0"/></g>
<polygon points="253,301 257,300 284,309.5 283,314 255,305" fill="#e4e5df" stroke="#c4c5bd" stroke-width="0.6"/>
<polygon points="231.5,349.5 262,359.5 262,366 259,366 258,362 230.5,353.5" fill="#e4e5df" stroke="#c4c5bd" stroke-width="0.6"/>
<polygon points="261,312 289.5,320.5 276.5,358.5 249,352" fill="#ecebe3" stroke="#c6c5bb" stroke-width="0.7"/>
<polygon points="261,312 289.5,320.5 288,325 259.8,316.5" fill="#d9d8cf"/>
<polygon points="259.8,316.5 262,317 250.5,352.3 249,352" fill="#dcdbd2"/>
<line x1="256" y1="330" x2="280" y2="337" stroke="#dddcd3" stroke-width="1.3"/>
<line x1="252.5" y1="341" x2="276" y2="348" stroke="#dddcd3" stroke-width="1.3"/>
<polygon points="283,338 289,340 287,344 281,342" fill="#d8d8cf"/>
<polygon points="278,352 284,354 282,358 276,356" fill="#d8d8cf"/>
</g>
</g>
<text x="225.0" y="397.4" font-size="12" letter-spacing="0.42" fill="#1e1e1e" stroke="#1e1e1e" stroke-width="0.15">Four-Pin connector</text>
<g transform="translate(170.8,150.6)">
<clipPath id="cc170"><ellipse cx="274.6" cy="332.2" rx="59.6" ry="47.9"/></clipPath>
<ellipse cx="274.6" cy="332.2" rx="60.2" ry="48.5" fill="#fff" stroke="#adadaf" stroke-width="1.5"/>
<g clip-path="url(#cc170)">
<path d="M313,346.5 L340,333" stroke="#8f9197" stroke-width="9" stroke-linecap="round"/>
<path d="M313,346.5 L340,333" stroke="#cdced2" stroke-width="7" stroke-linecap="round"/>
<path d="M315,344 L340,331.5" stroke="#e6e7ea" stroke-width="2"/>
<path d="M285,329 Q288,343 314,345.5" stroke="#c42a32" stroke-width="1.7" fill="none"/>
<path d="M283,340 Q292,346 313,347" stroke="#d6d6da" stroke-width="2" fill="none"/>
<path d="M279,345.5 Q296,349 313,348.5" stroke="#3b45b5" stroke-width="1.7" fill="none"/>
<path d="M275,355 Q300,353 314,350" stroke="#161616" stroke-width="1.8" fill="none"/>
<g transform="rotate(19 243.5 310.0)"><rect x="243.5" y="305.8" width="24" height="8.4" rx="1.2" fill="#c2c4c7"/><rect x="244.3" y="306.6" width="22" height="3.2" fill="#dfe0e2"/><rect x="243.5" y="312.6" width="24" height="1.6" fill="#9a9ca0"/></g>
<g transform="rotate(19 238.6 319.5)"><rect x="238.6" y="315.3" width="24" height="8.4" rx="1.2" fill="#c2c4c7"/><rect x="239.4" y="316.1" width="22" height="3.2" fill="#dfe0e2"/><rect x="238.6" y="322.1" width="24" height="1.6" fill="#9a9ca0"/></g>
<g transform="rotate(19 234.0 329.0)"><rect x="234.0" y="324.8" width="24" height="8.4" rx="1.2" fill="#c2c4c7"/><rect x="234.8" y="325.6" width="22" height="3.2" fill="#dfe0e2"/><rect x="234.0" y="331.6" width="24" height="1.6" fill="#9a9ca0"/></g>
<g transform="rotate(19 229.3 338.5)"><rect x="229.3" y="334.3" width="24" height="8.4" rx="1.2" fill="#c2c4c7"/><rect x="230.1" y="335.1" width="22" height="3.2" fill="#dfe0e2"/><rect x="229.3" y="341.1" width="24" height="1.6" fill="#9a9ca0"/></g>
<polygon points="253,301 257,300 284,309.5 283,314 255,305" fill="#e4e5df" stroke="#c4c5bd" stroke-width="0.6"/>
<polygon points="231.5,349.5 262,359.5 262,366 259,366 258,362 230.5,353.5" fill="#e4e5df" stroke="#c4c5bd" stroke-width="0.6"/>
<polygon points="261,312 289.5,320.5 276.5,358.5 249,352" fill="#ecebe3" stroke="#c6c5bb" stroke-width="0.7"/>
<polygon points="261,312 289.5,320.5 288,325 259.8,316.5" fill="#d9d8cf"/>
<polygon points="259.8,316.5 262,317 250.5,352.3 249,352" fill="#dcdbd2"/>
<line x1="256" y1="330" x2="280" y2="337" stroke="#dddcd3" stroke-width="1.3"/>
<line x1="252.5" y1="341" x2="276" y2="348" stroke="#dddcd3" stroke-width="1.3"/>
<polygon points="283,338 289,340 287,344 281,342" fill="#d8d8cf"/>
<polygon points="278,352 284,354 282,358 276,356" fill="#d8d8cf"/>
</g>
</g>
<text x="395.8" y="548.0" font-size="12" letter-spacing="0.42" fill="#1e1e1e" stroke="#1e1e1e" stroke-width="0.15">Four-Pin connector</text>
<defs><linearGradient id="eTop" x1="0" y1="0" x2="0" y2="1"><stop offset="0" stop-color="#e0e3e8"/><stop offset="1" stop-color="#cfd3da"/></linearGradient><linearGradient id="eLow" x1="0" y1="0" x2="0" y2="1"><stop offset="0" stop-color="#d4d7dc"/><stop offset="0.6" stop-color="#c6c9cf"/><stop offset="0.85" stop-color="#dcdfe3"/><stop offset="1" stop-color="#a9acb1"/></linearGradient><linearGradient id="eCap" x1="0" y1="0" x2="1" y2="1"><stop offset="0" stop-color="#d2d4d8"/><stop offset="1" stop-color="#a9abb0"/></linearGradient></defs>
<g>
<path d="M501.3,64.8 h29.0 v5.0 A14.5,1.3 0 0 1 501.3,69.8 Z" fill="url(#ftE)"/>
<path d="M500.0,69.3 h31.5 v4.7 A15.8,1.3 0 0 1 500.0,74.0 Z" fill="#1b1b1c"/>
<path d="M501.6,70.5 h28.4" stroke="#4f4c49" stroke-width="0.6"/>
<path d="M500.5,74.9 h30.5 v3.2 A15.2,1.3 0 0 1 500.5,78.2 Z" fill="#55534c"/>
<path d="M501.0,74.9 h29.5 v2.3 A14.8,1.3 0 0 1 501.0,77.3 Z" fill="url(#fdE)"/>
<rect x="511.7" y="78.9" width="8.2" height="4.2" rx="0.8" fill="#b4b8bc"/>
<rect x="511.7" y="81.0" width="8.2" height="0.7" fill="#7d7c76"/>
<rect x="513.4" y="83.1" width="4.8" height="12.4" rx="1.6" fill="url(#fbolt)"/>
<rect x="513.4" y="84.6" width="4.8" height="0.7" fill="#5f5d54"/>
<rect x="513.4" y="86.6" width="4.8" height="0.7" fill="#5f5d54"/>
<rect x="513.4" y="88.6" width="4.8" height="0.7" fill="#5f5d54"/>
<rect x="513.4" y="90.6" width="4.8" height="0.7" fill="#5f5d54"/>
<rect x="513.4" y="92.6" width="4.8" height="0.7" fill="#5f5d54"/>
</g>
<g>
<path d="M610.3,76.5 h35.4 v5.3 A17.7,1.3 0 0 1 610.3,81.8 Z" fill="url(#ftE)"/>
<path d="M608.8,81.3 h38.5 v5.0 A19.2,1.3 0 0 1 608.8,86.3 Z" fill="#1b1b1c"/>
<path d="M610.7,82.6 h34.6" stroke="#4f4c49" stroke-width="0.6"/>
<path d="M609.2,87.4 h37.5 v3.4 A18.8,1.3 0 0 1 609.2,90.8 Z" fill="#55534c"/>
<path d="M609.8,87.4 h36.5 v2.5 A18.2,1.3 0 0 1 609.8,89.9 Z" fill="url(#fdE)"/>
<rect x="623.0" y="91.6" width="10.0" height="4.5" rx="0.8" fill="#b4b8bc"/>
<rect x="623.0" y="93.8" width="10.0" height="0.7" fill="#7d7c76"/>
<rect x="625.6" y="96.1" width="4.8" height="15.8" rx="1.6" fill="url(#fbolt)"/>
<rect x="625.6" y="97.6" width="4.8" height="0.7" fill="#5f5d54"/>
<rect x="625.6" y="99.6" width="4.8" height="0.7" fill="#5f5d54"/>
<rect x="625.6" y="101.6" width="4.8" height="0.7" fill="#5f5d54"/>
<rect x="625.6" y="103.6" width="4.8" height="0.7" fill="#5f5d54"/>
<rect x="625.6" y="105.6" width="4.8" height="0.7" fill="#5f5d54"/>
<rect x="625.6" y="107.6" width="4.8" height="0.7" fill="#5f5d54"/>
<rect x="625.6" y="109.6" width="4.8" height="0.7" fill="#5f5d54"/>
</g>
<polygon points="666.6,14.2 675.8,14.5 675.8,43.8 666.6,42.8" fill="#a9acb1" />
<polygon points="666.6,14.2 667.8,14.2 667.8,42.8 666.6,42.8" fill="#e8e9eb" />
<polygon points="666.6,42.8 675.8,43.5 688.7,56.6 681.0,70.0 668.0,78.0 666.6,77.8" fill="url(#eCap)" stroke="#8d8f94" stroke-width="0.8"/>
<circle cx="670.0" cy="45.5" r="1.4" fill="#76787c"/><circle cx="670.0" cy="45.5" r="0.7" fill="#3e3f42"/>
<circle cx="685.5" cy="57.0" r="1.4" fill="#76787c"/><circle cx="685.5" cy="57.0" r="0.7" fill="#3e3f42"/>
<circle cx="670.0" cy="75.5" r="1.4" fill="#76787c"/><circle cx="670.0" cy="75.5" r="0.7" fill="#3e3f42"/>
<path d="M676,62 L706,71.5" fill="none" stroke="#7c8088" stroke-width="8.4"/>
<path d="M676,62 L706,71.5" fill="none" stroke="#bcc1ca" stroke-width="7"/>
<path d="M676,62 L706,71.5" fill="none" stroke="#d6dae2" stroke-width="2.1" transform="translate(0,-1.4)"/>
<ellipse cx="675.5" cy="59.0" rx="4.2" ry="7.5" fill="#1b1b1d"/>
<ellipse cx="674.0" cy="56.8" rx="1.3" ry="1.9" fill="#4a4a4f"/>
<path d="M676,62 L680,63.3" fill="none" stroke="#bcc0c8" stroke-width="5.5"/>
<polygon points="471.7,14.2 666.6,14.2 666.6,42.8 471.7,38.2" fill="url(#eTop)" />
<polygon points="471.7,14.2 666.6,14.2 666.6,15.5 471.7,15.5" fill="#a4a6ab" />
<polygon points="471.7,15.5 472.7,15.5 472.7,38.2 471.7,38.2" fill="#c4c6ca" />
<polygon points="468.6,37.9 666.6,42.5 666.6,77.8 469.6,62.3 466.6,59.3 466.6,40.7" fill="url(#eLow)" />
<line x1="467.6" y1="38.9" x2="666.6" y2="43.5" stroke="#9ea1a7" stroke-width="1.8"/>
<line x1="467.6" y1="41.2" x2="666.6" y2="45.8" stroke="#eef0f2" stroke-width="3"/>
<line x1="467.1" y1="40.2" x2="467.1" y2="60.3" stroke="#b0b2b6" stroke-width="1"/>
<line x1="666.1" y1="42.8" x2="666.1" y2="77.8" stroke="#9c9ea3" stroke-width="1"/>
<line x1="467.5" y1="45.3" x2="603.0" y2="53.3" stroke="#161616" stroke-width="1.9"/>
<line x1="467.5" y1="49.3" x2="603.0" y2="57.5" stroke="#161616" stroke-width="1.9"/>
<line x1="467.5" y1="53.4" x2="603.0" y2="62.1" stroke="#161616" stroke-width="1.9"/>
<circle cx="615.0" cy="60.3" r="3.3" fill="#5a5c5e"/>
<circle cx="615.0" cy="60.3" r="2.7" fill="#2a5e36"/>
<circle cx="614.3" cy="59.6" r="1.1" fill="#4a8a58"/>
<circle cx="623.7" cy="61.2" r="3.3" fill="#5a5c5e"/>
<circle cx="623.7" cy="61.2" r="2.7" fill="#7e2a30"/>
<circle cx="623.0" cy="60.5" r="1.1" fill="#a8484e"/>
<text x="625.2" y="55.2" font-size="4.2" text-anchor="middle" letter-spacing="0.9" fill="#3a3a3a">ANTI</text>
<rect x="636.2" y="56.2" width="24.0" height="8.7" fill="#1c1c1c"/>
<text x="648.2" y="61.9" font-size="5.4" font-family="Liberation Serif" font-weight="bold" text-anchor="middle" fill="#f2f2f2" textLength="20.6" lengthAdjust="spacingAndGlyphs">KXHFZ</text>
<rect x="637.2" y="62.8" width="22.0" height="1.2" fill="#9a9a9a"/>
<g transform="translate(487.7,26.8) scale(0.817,1.183)"><circle r="6" fill="#30242b"/><circle cx="0.8" r="4.5" fill="#e2b4d4"/><circle cx="0.9" r="3.6" fill="#aa5688"/><circle cx="0.6" cy="0.2" r="1.9" fill="#8c4272"/></g>
<g transform="translate(502.5,27.2) scale(0.865,1.210)"><circle r="6" fill="#30242b"/><circle cx="0.8" r="4.5" fill="#e2b4d4"/><circle cx="0.9" r="3.6" fill="#aa5688"/><circle cx="0.6" cy="0.2" r="1.9" fill="#8c4272"/></g>
<g transform="translate(518.6,27.5) scale(0.913,1.237)"><circle r="6" fill="#30242b"/><circle cx="0.8" r="4.5" fill="#e2b4d4"/><circle cx="0.9" r="3.6" fill="#aa5688"/><circle cx="0.6" cy="0.2" r="1.9" fill="#8c4272"/></g>
<g transform="translate(534.7,27.9) scale(0.962,1.263)"><circle r="6" fill="#30242b"/><circle cx="0.8" r="4.5" fill="#e2b4d4"/><circle cx="0.9" r="3.6" fill="#aa5688"/><circle cx="0.6" cy="0.2" r="1.9" fill="#8c4272"/></g>
<g transform="translate(552.8,28.2) scale(1.010,1.290)"><circle r="6" fill="#30242b"/><circle cx="0.8" r="4.5" fill="#e2b4d4"/><circle cx="0.9" r="3.6" fill="#aa5688"/><circle cx="0.6" cy="0.2" r="1.9" fill="#8c4272"/></g>
<g transform="translate(570.1,28.6) scale(1.058,1.317)"><circle r="6" fill="#30242b"/><circle cx="0.8" r="4.5" fill="#e2b4d4"/><circle cx="0.9" r="3.6" fill="#aa5688"/><circle cx="0.6" cy="0.2" r="1.9" fill="#8c4272"/></g>
<g transform="translate(589.5,29.0) scale(1.107,1.343)"><circle r="6" fill="#30242b"/><circle cx="0.8" r="4.5" fill="#e2b4d4"/><circle cx="0.9" r="3.6" fill="#aa5688"/><circle cx="0.6" cy="0.2" r="1.9" fill="#8c4272"/></g>
<g transform="translate(608.9,29.3) scale(1.155,1.370)"><circle r="6" fill="#30242b"/><circle cx="0.8" r="4.5" fill="#e2b4d4"/><circle cx="0.9" r="3.6" fill="#aa5688"/><circle cx="0.6" cy="0.2" r="1.9" fill="#8c4272"/></g>
<g transform="translate(529.7,135.0) scale(1.04,1)"><text x="0" y="0" font-size="16" letter-spacing="0.12" fill="#161616" stroke="#161616" stroke-width="0.2">RQJ007-8E-4C</text></g>
<g>
<path d="M516.8,252.6 h29.9 v4.8 A15.0,1.2 0 0 1 516.8,257.4 Z" fill="url(#ftE)"/>
<path d="M515.5,256.9 h32.5 v4.5 A16.2,1.2 0 0 1 515.5,261.4 Z" fill="#1b1b1c"/>
<path d="M517.2,258.0 h29.2" stroke="#4f4c49" stroke-width="0.6"/>
<path d="M516.0,262.4 h31.5 v3.1 A15.8,1.2 0 0 1 516.0,265.5 Z" fill="#55534c"/>
<path d="M516.5,262.4 h30.5 v2.2 A15.2,1.2 0 0 1 516.5,264.6 Z" fill="url(#fdE)"/>
<rect x="527.6" y="266.2" width="8.5" height="4.0" rx="0.8" fill="#b4b8bc"/>
<rect x="527.6" y="268.2" width="8.5" height="0.7" fill="#7d7c76"/>
<rect x="529.4" y="270.3" width="4.8" height="13.1" rx="1.6" fill="url(#fbolt)"/>
</g>
<g>
<path d="M629.0,263.0 h34.5 v5.6 A17.2,1.4 0 0 1 629.0,268.6 Z" fill="url(#ftE)"/>
<path d="M627.5,268.1 h37.5 v5.4 A18.8,1.4 0 0 1 627.5,273.5 Z" fill="#1b1b1c"/>
<path d="M629.4,269.5 h33.8" stroke="#4f4c49" stroke-width="0.6"/>
<path d="M628.0,274.6 h36.5 v3.7 A18.2,1.4 0 0 1 628.0,278.3 Z" fill="#55534c"/>
<path d="M628.5,274.6 h35.5 v2.8 A17.8,1.4 0 0 1 628.5,277.4 Z" fill="url(#fdE)"/>
<rect x="641.4" y="279.1" width="9.8" height="4.8" rx="0.8" fill="#b4b8bc"/>
<rect x="641.4" y="281.5" width="9.8" height="0.7" fill="#7d7c76"/>
<rect x="643.9" y="283.9" width="4.8" height="16.4" rx="1.6" fill="url(#fbolt)"/>
<rect x="643.9" y="285.4" width="4.8" height="0.7" fill="#5f5d54"/>
<rect x="643.9" y="287.4" width="4.8" height="0.7" fill="#5f5d54"/>
<rect x="643.9" y="289.4" width="4.8" height="0.7" fill="#5f5d54"/>
<rect x="643.9" y="291.4" width="4.8" height="0.7" fill="#5f5d54"/>
<rect x="643.9" y="293.4" width="4.8" height="0.7" fill="#5f5d54"/>
<rect x="643.9" y="295.4" width="4.8" height="0.7" fill="#5f5d54"/>
<rect x="643.9" y="297.4" width="4.8" height="0.7" fill="#5f5d54"/>
</g>
<polygon points="670.0,200.8 678.5,201.1 678.5,232.5 670.0,231.5" fill="#a9acb1" />
<polygon points="670.0,200.8 671.2,200.8 671.2,231.5 670.0,231.5" fill="#e8e9eb" />
<polygon points="667.0,232.0 678.5,232.5 691.0,243.0 687.8,257.5 671.0,265.0 667.0,264.6" fill="url(#eCap)" stroke="#8d8f94" stroke-width="0.8"/>
<circle cx="670.5" cy="234.0" r="1.4" fill="#76787c"/><circle cx="670.5" cy="234.0" r="0.7" fill="#3e3f42"/>
<circle cx="689.0" cy="243.5" r="1.4" fill="#76787c"/><circle cx="689.0" cy="243.5" r="0.7" fill="#3e3f42"/>
<circle cx="671.0" cy="262.0" r="1.4" fill="#76787c"/><circle cx="671.0" cy="262.0" r="0.7" fill="#3e3f42"/>
<path d="M678,249.5 L705.5,257.5" fill="none" stroke="#7c8088" stroke-width="7.9"/>
<path d="M678,249.5 L705.5,257.5" fill="none" stroke="#bcc1ca" stroke-width="6.5"/>
<path d="M678,249.5 L705.5,257.5" fill="none" stroke="#d6dae2" stroke-width="1.9" transform="translate(0,-1.3)"/>
<ellipse cx="676.0" cy="247.0" rx="5.2" ry="8.2" fill="#1b1b1d"/>
<ellipse cx="674.2" cy="244.5" rx="1.6" ry="2.0" fill="#4a4a4f"/>
<path d="M678,249.5 L682,250.7" fill="none" stroke="#bcc0c8" stroke-width="5.0"/>
<polygon points="498.5,200.8 670.0,200.8 670.0,231.5 498.5,225.0" fill="url(#eTop)" />
<polygon points="498.5,200.8 670.0,200.8 670.0,202.1 498.5,202.1" fill="#a4a6ab" />
<polygon points="498.5,202.1 499.5,202.1 499.5,225.0 498.5,225.0" fill="#c4c6ca" />
<polygon points="495.0,224.7 667.0,231.2 667.0,264.6 496.0,251.0 493.0,248.0 493.0,227.5" fill="url(#eLow)" />
<line x1="494.0" y1="225.7" x2="667.0" y2="232.2" stroke="#9ea1a7" stroke-width="1.8"/>
<line x1="494.0" y1="228.0" x2="667.0" y2="234.5" stroke="#eef0f2" stroke-width="3"/>
<line x1="493.5" y1="227.0" x2="493.5" y2="249.0" stroke="#b0b2b6" stroke-width="1"/>
<line x1="666.5" y1="231.5" x2="666.5" y2="264.6" stroke="#9c9ea3" stroke-width="1"/>
<line x1="494.0" y1="232.7" x2="607.0" y2="240.2" stroke="#161616" stroke-width="1.8"/>
<line x1="494.0" y1="237.2" x2="607.0" y2="244.5" stroke="#161616" stroke-width="1.8"/>
<line x1="494.0" y1="241.1" x2="607.0" y2="249.5" stroke="#161616" stroke-width="1.8"/>
<circle cx="619.0" cy="248.1" r="3.6" fill="#5a5c5e"/>
<circle cx="619.0" cy="248.1" r="3.0" fill="#2a5e36"/>
<circle cx="618.2" cy="247.3" r="1.2" fill="#4a8a58"/>
<circle cx="628.0" cy="248.7" r="3.5" fill="#5a5c5e"/>
<circle cx="628.0" cy="248.7" r="2.9" fill="#7e2a30"/>
<circle cx="627.3" cy="248.0" r="1.2" fill="#a8484e"/>
<text x="629.4" y="241.5" font-size="3.6" text-anchor="middle" letter-spacing="0.9" fill="#3a3a3a">ANTI</text>
<rect x="639.2" y="243.5" width="24.4" height="8.5" fill="#1c1c1c"/>
<text x="651.4" y="249.1" font-size="5.3" font-family="Liberation Serif" font-weight="bold" text-anchor="middle" fill="#f2f2f2" textLength="21.0" lengthAdjust="spacingAndGlyphs">KXHFZ</text>
<rect x="640.2" y="250.0" width="22.4" height="1.2" fill="#9a9a9a"/>
<g transform="translate(514.6,213.6) scale(0.833,1.167)"><circle r="6" fill="#30242b"/><circle cx="0.8" r="4.5" fill="#e2b4d4"/><circle cx="0.9" r="3.6" fill="#aa5688"/><circle cx="0.6" cy="0.2" r="1.9" fill="#8c4272"/></g>
<g transform="translate(530.5,213.9) scale(0.900,1.203)"><circle r="6" fill="#30242b"/><circle cx="0.8" r="4.5" fill="#e2b4d4"/><circle cx="0.9" r="3.6" fill="#aa5688"/><circle cx="0.6" cy="0.2" r="1.9" fill="#8c4272"/></g>
<g transform="translate(547.1,214.2) scale(0.967,1.240)"><circle r="6" fill="#30242b"/><circle cx="0.8" r="4.5" fill="#e2b4d4"/><circle cx="0.9" r="3.6" fill="#aa5688"/><circle cx="0.6" cy="0.2" r="1.9" fill="#8c4272"/></g>
<g transform="translate(564.6,214.6) scale(1.033,1.277)"><circle r="6" fill="#30242b"/><circle cx="0.8" r="4.5" fill="#e2b4d4"/><circle cx="0.9" r="3.6" fill="#aa5688"/><circle cx="0.6" cy="0.2" r="1.9" fill="#8c4272"/></g>
<g transform="translate(583.2,214.9) scale(1.100,1.313)"><circle r="6" fill="#30242b"/><circle cx="0.8" r="4.5" fill="#e2b4d4"/><circle cx="0.9" r="3.6" fill="#aa5688"/><circle cx="0.6" cy="0.2" r="1.9" fill="#8c4272"/></g>
<g transform="translate(603.3,215.2) scale(1.167,1.350)"><circle r="6" fill="#30242b"/><circle cx="0.8" r="4.5" fill="#e2b4d4"/><circle cx="0.9" r="3.6" fill="#aa5688"/><circle cx="0.6" cy="0.2" r="1.9" fill="#8c4272"/></g>
<g transform="translate(546.2,323.0) scale(1.04,1)"><text x="0" y="0" font-size="16" letter-spacing="0.12" fill="#161616" stroke="#161616" stroke-width="0.2">RQJ007-6E-4C</text></g>
<g>
<path d="M541.5,437.0 h32.8 v5.6 A16.4,1.4 0 0 1 541.5,442.6 Z" fill="url(#ftE)"/>
<path d="M540.0,442.1 h35.7 v5.4 A17.9,1.4 0 0 1 540.0,447.5 Z" fill="#1b1b1c"/>
<path d="M541.8,443.5 h32.1" stroke="#4f4c49" stroke-width="0.6"/>
<path d="M540.5,448.6 h34.7 v3.7 A17.4,1.4 0 0 1 540.5,452.3 Z" fill="#55534c"/>
<path d="M541.0,448.6 h33.7 v2.8 A16.9,1.4 0 0 1 541.0,451.4 Z" fill="url(#fdE)"/>
<rect x="553.3" y="453.1" width="9.3" height="4.8" rx="0.8" fill="#b4b8bc"/>
<rect x="553.3" y="455.5" width="9.3" height="0.7" fill="#7d7c76"/>
<rect x="555.5" y="457.9" width="4.8" height="14.5" rx="1.6" fill="url(#fbolt)"/>
<rect x="555.5" y="459.4" width="4.8" height="0.7" fill="#5f5d54"/>
<rect x="555.5" y="461.4" width="4.8" height="0.7" fill="#5f5d54"/>
<rect x="555.5" y="463.4" width="4.8" height="0.7" fill="#5f5d54"/>
<rect x="555.5" y="465.4" width="4.8" height="0.7" fill="#5f5d54"/>
<rect x="555.5" y="467.4" width="4.8" height="0.7" fill="#5f5d54"/>
<rect x="555.5" y="469.4" width="4.8" height="0.7" fill="#5f5d54"/>
</g>
<g>
<path d="M625.8,443.8 h35.9 v6.2 A17.9,1.6 0 0 1 625.8,450.0 Z" fill="url(#ftE)"/>
<path d="M624.2,449.5 h39.0 v6.0 A19.5,1.6 0 0 1 624.2,455.5 Z" fill="#1b1b1c"/>
<path d="M626.2,451.0 h35.1" stroke="#4f4c49" stroke-width="0.7"/>
<path d="M624.7,456.8 h38.0 v4.0 A19.0,1.6 0 0 1 624.7,460.8 Z" fill="#55534c"/>
<path d="M625.2,456.8 h37.0 v3.1 A18.5,1.6 0 0 1 625.2,459.9 Z" fill="url(#fdE)"/>
<rect x="638.6" y="461.7" width="10.1" height="5.3" rx="0.8" fill="#b4b8bc"/>
<rect x="638.6" y="464.4" width="10.1" height="0.7" fill="#7d7c76"/>
<rect x="641.3" y="467.0" width="4.8" height="15.6" rx="1.6" fill="url(#fbolt)"/>
<rect x="641.3" y="468.5" width="4.8" height="0.7" fill="#5f5d54"/>
<rect x="641.3" y="470.5" width="4.8" height="0.7" fill="#5f5d54"/>
<rect x="641.3" y="472.5" width="4.8" height="0.7" fill="#5f5d54"/>
<rect x="641.3" y="474.5" width="4.8" height="0.7" fill="#5f5d54"/>
<rect x="641.3" y="476.5" width="4.8" height="0.7" fill="#5f5d54"/>
<rect x="641.3" y="478.5" width="4.8" height="0.7" fill="#5f5d54"/>
<rect x="641.3" y="480.5" width="4.8" height="0.7" fill="#5f5d54"/>
</g>
<polygon points="666.3,379.8 673.6,380.1 673.6,411.6 666.3,410.6" fill="#a9acb1" />
<polygon points="666.3,379.8 667.5,379.8 667.5,410.6 666.3,410.6" fill="#e8e9eb" />
<polygon points="662.3,411.4 673.6,411.0 686.6,421.9 685.8,426.8 671.2,443.0 662.3,444.6" fill="url(#eCap)" stroke="#8d8f94" stroke-width="0.8"/>
<circle cx="666.0" cy="413.5" r="1.4" fill="#76787c"/><circle cx="666.0" cy="413.5" r="0.7" fill="#3e3f42"/>
<circle cx="684.0" cy="423.5" r="1.4" fill="#76787c"/><circle cx="684.0" cy="423.5" r="0.7" fill="#3e3f42"/>
<circle cx="666.0" cy="442.0" r="1.4" fill="#76787c"/><circle cx="666.0" cy="442.0" r="0.7" fill="#3e3f42"/>
<path d="M675,428.5 L704.5,437" fill="none" stroke="#7c8088" stroke-width="8.6"/>
<path d="M675,428.5 L704.5,437" fill="none" stroke="#bcc1ca" stroke-width="7.2"/>
<path d="M675,428.5 L704.5,437" fill="none" stroke="#d6dae2" stroke-width="2.2" transform="translate(0,-1.4)"/>
<ellipse cx="671.6" cy="425.2" rx="6.1" ry="8.8" fill="#1b1b1d"/>
<ellipse cx="669.5" cy="422.6" rx="1.8" ry="2.2" fill="#4a4a4f"/>
<path d="M675,428.5 L680,430" fill="none" stroke="#bcc0c8" stroke-width="5.7"/>
<polygon points="520.2,379.8 666.3,379.8 666.3,410.6 520.2,407.3" fill="url(#eTop)" />
<polygon points="520.2,379.8 666.3,379.8 666.3,381.1 520.2,381.1" fill="#a4a6ab" />
<polygon points="520.2,381.1 521.2,381.1 521.2,407.3 520.2,407.3" fill="#c4c6ca" />
<polygon points="516.3,407.0 662.3,410.3 662.3,444.6 517.3,433.5 514.3,430.5 514.3,409.8" fill="url(#eLow)" />
<line x1="515.3" y1="408.0" x2="662.3" y2="411.3" stroke="#9ea1a7" stroke-width="1.8"/>
<line x1="515.3" y1="410.3" x2="662.3" y2="413.6" stroke="#eef0f2" stroke-width="3"/>
<line x1="514.8" y1="409.3" x2="514.8" y2="431.5" stroke="#b0b2b6" stroke-width="1"/>
<line x1="661.8" y1="410.6" x2="661.8" y2="444.6" stroke="#9c9ea3" stroke-width="1"/>
<line x1="515.5" y1="415.5" x2="601.0" y2="419.7" stroke="#161616" stroke-width="1.9"/>
<line x1="515.5" y1="420.1" x2="601.0" y2="424.6" stroke="#161616" stroke-width="1.9"/>
<line x1="515.5" y1="424.6" x2="601.0" y2="429.5" stroke="#161616" stroke-width="1.9"/>
<circle cx="613.3" cy="428.4" r="3.8" fill="#5a5c5e"/>
<circle cx="613.3" cy="428.4" r="3.2" fill="#2a5e36"/>
<circle cx="612.5" cy="427.6" r="1.3" fill="#4a8a58"/>
<circle cx="622.7" cy="428.4" r="3.8" fill="#5a5c5e"/>
<circle cx="622.7" cy="428.4" r="3.2" fill="#7e2a30"/>
<circle cx="621.9" cy="427.6" r="1.3" fill="#a8484e"/>
<text x="624.3" y="420.3" font-size="4" text-anchor="middle" letter-spacing="0.9" fill="#3a3a3a">ANTI</text>
<rect x="635.3" y="421.1" width="23.0" height="11.3" fill="#1c1c1c"/>
<text x="646.8" y="428.6" font-size="7.0" font-family="Liberation Serif" font-weight="bold" text-anchor="middle" fill="#f2f2f2" textLength="19.8" lengthAdjust="spacingAndGlyphs">KXHFZ</text>
<rect x="636.3" y="429.7" width="21.0" height="1.6" fill="#9a9a9a"/>
<g transform="translate(539.6,394.6) scale(1.050,1.317)"><circle r="6" fill="#30242b"/><circle cx="0.8" r="4.5" fill="#e2b4d4"/><circle cx="0.9" r="3.6" fill="#aa5688"/><circle cx="0.6" cy="0.2" r="1.9" fill="#8c4272"/></g>
<g transform="translate(558.2,394.8) scale(1.105,1.350)"><circle r="6" fill="#30242b"/><circle cx="0.8" r="4.5" fill="#e2b4d4"/><circle cx="0.9" r="3.6" fill="#aa5688"/><circle cx="0.6" cy="0.2" r="1.9" fill="#8c4272"/></g>
<g transform="translate(577.5,395.0) scale(1.160,1.383)"><circle r="6" fill="#30242b"/><circle cx="0.8" r="4.5" fill="#e2b4d4"/><circle cx="0.9" r="3.6" fill="#aa5688"/><circle cx="0.6" cy="0.2" r="1.9" fill="#8c4272"/></g>
<g transform="translate(597.8,395.2) scale(1.215,1.417)"><circle r="6" fill="#30242b"/><circle cx="0.8" r="4.5" fill="#e2b4d4"/><circle cx="0.9" r="3.6" fill="#aa5688"/><circle cx="0.6" cy="0.2" r="1.9" fill="#8c4272"/></g>
<g transform="translate(553.2,503.4) scale(1.04,1)"><text x="0" y="0" font-size="16" letter-spacing="0.12" fill="#161616" stroke="#161616" stroke-width="0.2">RQJ007-4E-4C</text></g>
<g>
<path d="M572.9,618.6 h33.1 v5.8 A16.6,1.5 0 0 1 572.9,624.4 Z" fill="url(#ftE)"/>
<path d="M571.5,623.9 h36.0 v5.5 A18.0,1.5 0 0 1 571.5,629.4 Z" fill="#1b1b1c"/>
<path d="M573.3,625.3 h32.4" stroke="#4f4c49" stroke-width="0.6"/>
<path d="M572.0,630.6 h35.0 v3.8 A17.5,1.5 0 0 1 572.0,634.4 Z" fill="#55534c"/>
<path d="M572.5,630.6 h34.0 v2.9 A17.0,1.5 0 0 1 572.5,633.5 Z" fill="url(#fdE)"/>
<rect x="584.8" y="635.2" width="9.4" height="5.0" rx="0.8" fill="#b4b8bc"/>
<rect x="584.8" y="637.7" width="9.4" height="0.7" fill="#7d7c76"/>
<rect x="587.1" y="640.2" width="4.8" height="14.2" rx="1.6" fill="url(#fbolt)"/>
<rect x="587.1" y="641.7" width="4.8" height="0.7" fill="#5f5d54"/>
<rect x="587.1" y="643.7" width="4.8" height="0.7" fill="#5f5d54"/>
<rect x="587.1" y="645.7" width="4.8" height="0.7" fill="#5f5d54"/>
<rect x="587.1" y="647.7" width="4.8" height="0.7" fill="#5f5d54"/>
<rect x="587.1" y="649.7" width="4.8" height="0.7" fill="#5f5d54"/>
<rect x="587.1" y="651.7" width="4.8" height="0.7" fill="#5f5d54"/>
</g>
<g>
<path d="M625.9,620.8 h35.1 v6.3 A17.6,1.6 0 0 1 625.9,627.1 Z" fill="url(#ftE)"/>
<path d="M624.4,626.6 h38.2 v6.0 A19.1,1.6 0 0 1 624.4,632.6 Z" fill="#1b1b1c"/>
<path d="M626.3,628.1 h34.4" stroke="#4f4c49" stroke-width="0.7"/>
<path d="M624.9,633.9 h37.2 v4.1 A18.6,1.6 0 0 1 624.9,638.0 Z" fill="#55534c"/>
<path d="M625.4,633.9 h36.2 v3.2 A18.1,1.6 0 0 1 625.4,637.1 Z" fill="url(#fdE)"/>
<rect x="638.5" y="638.9" width="9.9" height="5.4" rx="0.8" fill="#b4b8bc"/>
<rect x="638.5" y="641.6" width="9.9" height="0.7" fill="#7d7c76"/>
<rect x="641.1" y="644.3" width="4.8" height="15.2" rx="1.6" fill="url(#fbolt)"/>
<rect x="641.1" y="645.8" width="4.8" height="0.7" fill="#5f5d54"/>
<rect x="641.1" y="647.8" width="4.8" height="0.7" fill="#5f5d54"/>
<rect x="641.1" y="649.8" width="4.8" height="0.7" fill="#5f5d54"/>
<rect x="641.1" y="651.8" width="4.8" height="0.7" fill="#5f5d54"/>
<rect x="641.1" y="653.8" width="4.8" height="0.7" fill="#5f5d54"/>
<rect x="641.1" y="655.8" width="4.8" height="0.7" fill="#5f5d54"/>
<rect x="641.1" y="657.8" width="4.8" height="0.7" fill="#5f5d54"/>
</g>
<polygon points="664.0,561.0 672.6,561.3 672.6,591.3 664.0,590.3" fill="#a9acb1" />
<polygon points="664.0,561.0 665.2,561.0 665.2,590.3 664.0,590.3" fill="#e8e9eb" />
<polygon points="662.6,590.3 672.6,590.5 684.0,602.5 683.0,607.0 666.0,622.8 662.6,622.8" fill="url(#eCap)" stroke="#8d8f94" stroke-width="0.8"/>
<circle cx="665.5" cy="592.5" r="1.4" fill="#76787c"/><circle cx="665.5" cy="592.5" r="0.7" fill="#3e3f42"/>
<circle cx="682.0" cy="603.5" r="1.4" fill="#76787c"/><circle cx="682.0" cy="603.5" r="0.7" fill="#3e3f42"/>
<circle cx="666.0" cy="620.5" r="1.4" fill="#76787c"/><circle cx="666.0" cy="620.5" r="0.7" fill="#3e3f42"/>
<path d="M671,607.5 L700,631.5" fill="none" stroke="#7c8088" stroke-width="9.4"/>
<path d="M671,607.5 L700,631.5" fill="none" stroke="#bcc1ca" stroke-width="8"/>
<path d="M671,607.5 L700,631.5" fill="none" stroke="#d6dae2" stroke-width="2.4" transform="translate(0,-1.6)"/>
<ellipse cx="670.0" cy="605.3" rx="5.1" ry="8.5" fill="#1b1b1d"/>
<ellipse cx="668.2" cy="602.8" rx="1.5" ry="2.1" fill="#4a4a4f"/>
<path d="M671,607.5 L675,610.8" fill="none" stroke="#bcc0c8" stroke-width="6.5"/>
<polygon points="554.2,561.0 664.0,561.0 664.0,590.3 554.2,588.3" fill="url(#eTop)" />
<polygon points="554.2,561.0 664.0,561.0 664.0,562.3 554.2,562.3" fill="#a4a6ab" />
<polygon points="554.2,562.3 555.2,562.3 555.2,588.3 554.2,588.3" fill="#c4c6ca" />
<polygon points="551.0,588.0 662.6,590.0 662.6,622.8 552.0,617.1 549.0,614.1 549.0,590.8" fill="url(#eLow)" />
<line x1="550.0" y1="589.0" x2="662.6" y2="591.0" stroke="#9ea1a7" stroke-width="1.8"/>
<line x1="550.0" y1="591.3" x2="662.6" y2="593.3" stroke="#eef0f2" stroke-width="3"/>
<line x1="549.5" y1="590.3" x2="549.5" y2="615.1" stroke="#b0b2b6" stroke-width="1"/>
<line x1="662.1" y1="590.3" x2="662.1" y2="622.8" stroke="#9c9ea3" stroke-width="1"/>
<line x1="549.5" y1="597.6" x2="623.3" y2="599.8" stroke="#161616" stroke-width="1.9"/>
<line x1="549.5" y1="601.8" x2="623.3" y2="604.1" stroke="#161616" stroke-width="1.9"/>
<line x1="549.5" y1="606.3" x2="623.3" y2="609.3" stroke="#161616" stroke-width="1.9"/>
<circle cx="626.6" cy="605.9" r="3.8" fill="#5a5c5e"/>
<circle cx="626.6" cy="605.9" r="3.2" fill="#7e2a30"/>
<circle cx="625.8" cy="605.1" r="1.3" fill="#a8484e"/>
<circle cx="640.1" cy="606.3" r="3.8" fill="#5a5c5e"/>
<circle cx="640.1" cy="606.3" r="3.2" fill="#2a5e36"/>
<circle cx="639.3" cy="605.5" r="1.3" fill="#4a8a58"/>
<text x="646.6" y="601.3" font-size="4.2" text-anchor="middle" letter-spacing="0.9" fill="#3a3a3a">ANTI</text>
<g transform="translate(575.2,576.0) scale(1.167,1.367)"><circle r="6" fill="#30242b"/><circle cx="0.8" r="4.5" fill="#e2b4d4"/><circle cx="0.9" r="3.6" fill="#aa5688"/><circle cx="0.6" cy="0.2" r="1.9" fill="#8c4272"/></g>
<g transform="translate(595.4,576.5) scale(1.200,1.433)"><circle r="6" fill="#30242b"/><circle cx="0.8" r="4.5" fill="#e2b4d4"/><circle cx="0.9" r="3.6" fill="#aa5688"/><circle cx="0.6" cy="0.2" r="1.9" fill="#8c4272"/></g>
<g transform="translate(573.5,680.7) scale(1.04,1)"><text x="0" y="0" font-size="16" letter-spacing="0.12" fill="#161616" stroke="#161616" stroke-width="0.2">RQJ007-2E-4C</text></g>
</svg></body></html>
